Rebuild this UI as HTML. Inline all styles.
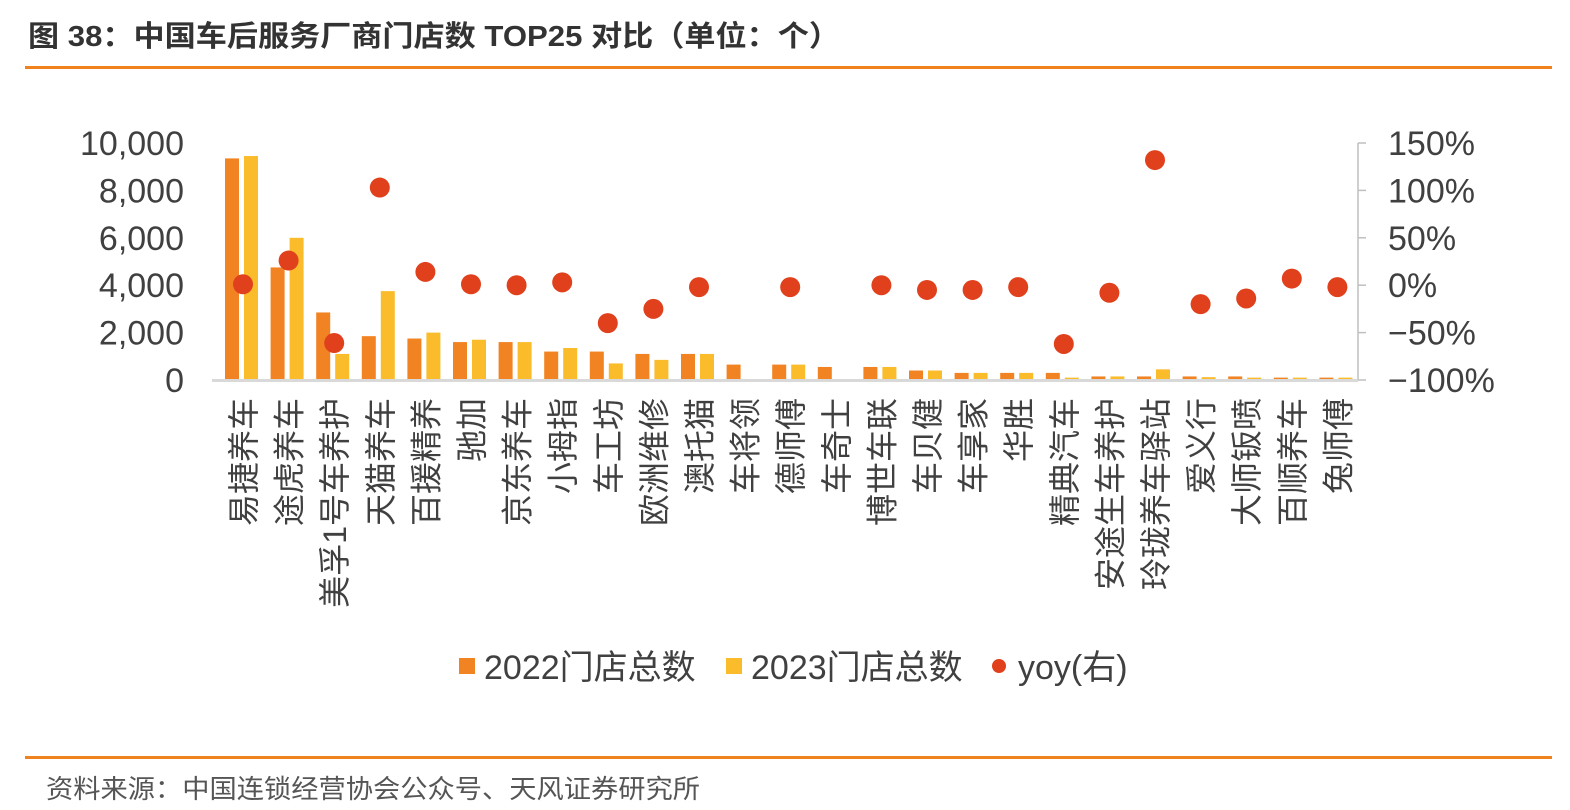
<!DOCTYPE html>
<html><head><meta charset="utf-8"><style>
body{margin:0;background:#fff;width:1570px;height:810px;overflow:hidden;font-family:"Liberation Sans","Noto Sans CJK SC",sans-serif}
</style></head><body>
<svg width="1570" height="810" style="position:absolute;left:0;top:0">
<text x="28" y="46" font-size="29" font-weight="bold" fill="#333" textLength="812" lengthAdjust="spacingAndGlyphs" font-family="Liberation Sans,Noto Sans CJK SC,sans-serif">图 38：中国车后服务厂商门店数 TOP25 对比（单位：个）</text>
<rect x="25" y="66" width="1527" height="3" fill="#F0821E"/>
<rect x="25" y="756" width="1527" height="3" fill="#F0821E"/>
<text x="46" y="798" font-size="26" fill="#555" textLength="654" lengthAdjust="spacingAndGlyphs" font-family="Liberation Sans,Noto Sans CJK SC,sans-serif">资料来源：中国连锁经营协会公众号、天风证券研究所</text>
<g id="plot"></g>
</svg>
<script>
const categories=["易捷养车","途虎养车","美孚1号车养护","天猫养车","百援精养","驰加","京东养车","小拇指","车工坊","欧洲维修","澳托猫","车将领","德师傅","车奇士","博世车联","车贝健","车享家","华胜","精典汽车","安途生车养护","玲珑养车驿站","爱义行","大师钣喷","百顺养车","兔师傅"];
const stores2022=[9350,4750,2850,1850,1750,1600,1600,1200,1200,1100,1100,650,650,550,550,400,300,300,300,150,150,150,150,100,100];
const stores2023=[9450,6000,1100,3750,2000,1700,1600,1350,700,850,1100,null,650,null,550,400,300,300,100,150,450,120,100,100,100];
const yoy=[1,26,-61,103,14,1,0,3,-40,-25,-2,null,-2,null,0,-5,-5,-2,-62,-8,132,-20,-14,7,-2];
const leftTicks=[0,2000,4000,6000,8000,10000];
const rightTicks=[-100,-50,0,50,100,150];
const NS="http://www.w3.org/2000/svg";
const g=document.getElementById('plot');
const y0=380,yTop=143,x0=243,step=45.6;
const yL=v=>y0-(v/10000)*(y0-yTop);
const yR=v=>y0-((v+100)/250)*(y0-yTop);
const xC=i=>x0+i*step;
function el(t,a){const e=document.createElementNS(NS,t);for(const k in a)e.setAttribute(k,a[k]);g.appendChild(e);return e;}
const F='Liberation Sans,Noto Sans CJK SC,sans-serif';
leftTicks.forEach(v=>{const t=el('text',{x:184,y:yL(v)+12,'font-size':34,fill:'#404040','text-anchor':'end','font-family':F});t.textContent=v.toLocaleString('en-US');

});
rightTicks.forEach(v=>{const t=el('text',{x:1388,y:yR(v)+12,'font-size':34,fill:'#404040','font-family':F});t.textContent=(v<0?'−':'')+Math.abs(v)+'%';


const k=el('line',{x1:1358,x2:1366,y1:yR(v),y2:yR(v),stroke:'#bfbfbf','stroke-width':1.5});

});
const ax=el('line',{x1:1358,x2:1358,y1:yTop,y2:y0,stroke:'#bfbfbf','stroke-width':1.5});


categories.forEach((c,i)=>{
 const x=xC(i);
 if(stores2022[i]!=null){const r=el('rect',{x:x-18,y:yL(stores2022[i]),width:14,height:y0-yL(stores2022[i]),fill:'#F28322'});
 
 }
 if(stores2023[i]!=null){const r=el('rect',{x:x+1,y:yL(stores2023[i]),width:14,height:y0-yL(stores2023[i]),fill:'#FBBC2C'});
 
 }
 const t=el('text',{transform:`translate(${x+12},398) rotate(-90)`,'font-size':32,fill:'#404040','text-anchor':'end','font-family':F});
 t.textContent=c;
 
 
});
const base=el('rect',{x:212,y:379,width:1146,height:3,fill:'#d9d9d9'});


yoy.forEach((v,i)=>{if(v==null)return;const d=el('circle',{cx:xC(i),cy:yR(v),r:10,fill:'#E0401C'});

});
const l1=el('rect',{x:459,y:658,width:16,height:16,fill:'#F28322'});


const t1=el('text',{x:484,y:679,'font-size':34,fill:'#404040','font-family':F});t1.textContent='2022门店总数';


const l2=el('rect',{x:726,y:658,width:16,height:16,fill:'#FBBC2C'});


const t2=el('text',{x:751,y:679,'font-size':34,fill:'#404040','font-family':F});t2.textContent='2023门店总数';


const l3=el('circle',{cx:999,cy:666,r:7,fill:'#E0401C'});


const t3=el('text',{x:1018,y:679,'font-size':34,fill:'#404040','font-family':F});t3.textContent='yoy(右)';


</script>
</body></html>
